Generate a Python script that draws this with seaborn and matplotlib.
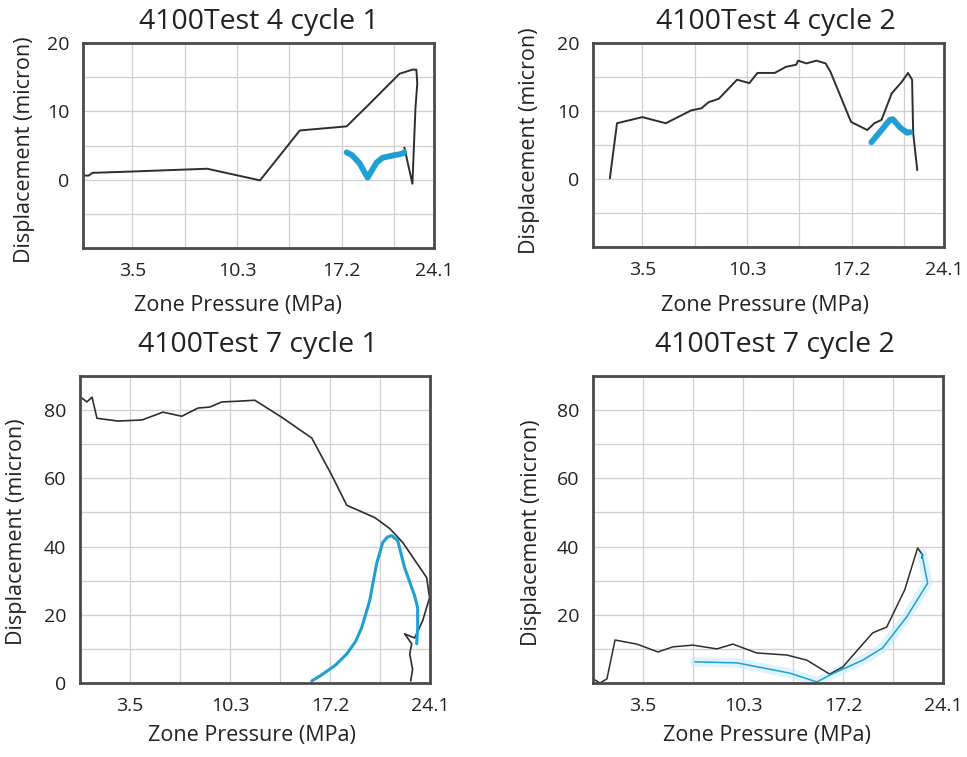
import matplotlib
matplotlib.use("Agg")
import matplotlib.pyplot as plt
import seaborn as sns

# ---- Test 4, cycle 1 -------------------------------------------------
t4c1_load_p = [0.24, 0.57, 0.83, 3.52, 8.37, 11.85, 14.47, 17.55, 19.06, 21.03,
               21.88, 22.14, 22.20, 22.08, 21.88, 21.35]
t4c1_load_d = [0.6, 0.6, 1.0, 1.2, 1.6, -0.1, 7.2, 7.8, 11.1, 15.5,
               16.1, 16.1, 14.1, 10.5, -0.6, 4.7]
t4c1_unld_p = [17.55, 17.9, 18.4, 18.93, 19.52, 19.91, 20.5, 21.2, 21.35]
t4c1_unld_d = [4.0, 3.6, 2.4, 0.3, 2.5, 3.2, 3.5, 3.8, 4.0]

# ---- Test 4, cycle 2 -------------------------------------------------
t4c2_load_p = [1.31, 1.78, 3.45, 4.99, 6.67, 7.34, 7.81, 8.48, 9.68, 10.49,
               11.02, 12.16, 12.90, 13.57, 13.70, 14.24, 14.90, 15.51, 15.84,
               17.18, 18.25, 18.72, 19.19, 19.86, 20.53, 20.93, 21.20, 21.27, 21.54]
t4c2_load_d = [0.1, 8.2, 9.1, 8.2, 10.1, 10.4, 11.3, 11.8, 14.6, 14.1,
               15.6, 15.6, 16.5, 16.8, 17.4, 17.0, 17.4, 17.0, 15.7,
               8.4, 7.2, 8.2, 8.7, 12.6, 14.3, 15.6, 14.6, 6.8, 1.3]
t4c2_unld_p = [18.52, 19.19, 19.73, 19.93, 20.40, 20.87, 21.07]
t4c2_unld_d = [5.4, 7.2, 8.7, 8.8, 7.6, 6.8, 6.9]

# ---- Test 7, cycle 1 -------------------------------------------------
t7c1_load_p = [0.14, 0.48, 0.83, 1.17, 2.62, 4.27, 5.72, 7.02, 8.13, 8.95,
               9.78, 10.88, 12.05, 13.91, 15.98, 17.36, 18.39, 20.32, 21.35,
               22.25, 23.90, 24.10, 23.62, 23.07, 22.38, 22.87, 22.73, 22.93, 22.80]
t7c1_load_d = [83.5, 82.4, 83.8, 77.6, 76.8, 77.1, 79.4, 78.2, 80.6, 80.9,
               82.4, 82.6, 82.9, 77.9, 71.8, 60.9, 52.1, 48.5, 45.3,
               41.2, 30.9, 25.0, 18.2, 13.2, 14.4, 11.5, 8.5, 4.0, 0.6]
t7c1_unld_p = [15.98, 16.74, 17.60, 18.39, 19.00, 19.42, 19.97, 20.45, 20.87,
               21.20, 21.49, 21.90, 22.38, 23.07, 23.28, 23.28, 23.21]
t7c1_unld_d = [0.6, 2.6, 5.2, 8.5, 12.2, 16.2, 24.1, 35.0, 41.2,
               42.8, 43.2, 41.8, 33.8, 25.6, 22.0, 16.2, 11.5]

# ---- Test 7, cycle 2 -------------------------------------------------
t7c2_load_p = [0.14, 0.48, 0.96, 1.52, 3.03, 4.48, 5.51, 6.89, 8.54, 9.64,
               11.29, 13.36, 14.74, 16.32, 17.22, 19.28, 20.25, 21.49, 22.38,
               22.73, 22.66]
t7c2_load_d = [0.9, 0.0, 1.2, 12.6, 11.4, 9.1, 10.6, 11.1, 10.0, 11.4,
               8.8, 8.2, 6.7, 2.6, 4.7, 14.7, 16.4, 27.3, 39.6,
               37.5, 36.7]
t7c2_unld_p = [7.02, 9.92, 13.57, 15.43, 16.46, 18.60, 19.97, 21.63, 23.07, 22.66]
t7c2_unld_d = [6.2, 5.9, 2.9, 0.3, 2.6, 6.7, 10.3, 19.4, 29.3, 38.1]

titles = ["4100Test 4 cycle 1", "4100Test 4 cycle 2",
          "4100Test 7 cycle 1", "4100Test 7 cycle 2"]
x_label = "Zone Pressure (MPa)"
y_label = "Displacement (micron)"

psi_step = 3.447  # 500 psi expressed in MPa
x_tick_text = ["3.5", "10.3", "17.2", "24.1"]

sns.set_style("white")
plt.rcParams["font.family"] = ["Open Sans", "DejaVu Sans"]

W, H = 967, 757
fig = plt.figure(figsize=(W / 100, H / 100), dpi=100)


def px_axes(x0, y0, x1, y1):
    return fig.add_axes([x0 / W, 1 - y1 / H, (x1 - x0) / W, (y1 - y0) / H])


BLACK = "#2e2e2e"
CYAN = "#1f9fd3"
GRID = "#cfcfcf"
SPINE = "#4a4a4a"
TEXT = "#222222"

panels = [
    dict(rect=(83, 43, 434, 248), xlim=(0.2, 23.3), ylim=(-10, 20), ystep=5,
         ylabels={0: "0", 10: "10", 20: "20"},
         load=(t4c1_load_p, t4c1_load_d), unld=(t4c1_unld_p, t4c1_unld_d),
         lw_load=1.4, lw_unld=4.2,
         title_xy=(259, 22), xl_xy=(238, 305), yl_xy=(25, 150)),
    dict(rect=(593, 43, 944, 247), xlim=(0.2, 23.3), ylim=(-10, 20), ystep=5,
         ylabels={0: "0", 10: "10", 20: "20"},
         load=(t4c2_load_p, t4c2_load_d), unld=(t4c2_unld_p, t4c2_unld_d),
         lw_load=1.4, lw_unld=4.2,
         title_xy=(776, 22), xl_xy=(765, 305), yl_xy=(529, 141)),
    dict(rect=(80, 376, 430, 683), xlim=(0.0, 24.13), ylim=(0, 90), ystep=10,
         ylabels={0: "0", 20: "20", 40: "40", 60: "60", 80: "80"},
         load=(t7c1_load_p, t7c1_load_d), unld=(t7c1_unld_p, t7c1_unld_d),
         lw_load=1.2, lw_unld=2.2,
         title_xy=(258, 345), xl_xy=(252, 735), yl_xy=(17, 532)),
    dict(rect=(593, 376, 943, 683), xlim=(0.0, 24.13), ylim=(0, 90), ystep=10,
         ylabels={20: "20", 40: "40", 60: "60", 80: "80"},
         load=(t7c2_load_p, t7c2_load_d), unld=(t7c2_unld_p, t7c2_unld_d),
         lw_load=1.1, lw_unld=1.1,
         title_xy=(775, 345), xl_xy=(767, 735), yl_xy=(531, 533)),
]

for i, cfg in enumerate(panels):
    ax = px_axes(*cfg["rect"])
    x0, x1 = cfg["xlim"]
    y0, y1 = cfg["ylim"]

    # interior grid lines every 500 psi and every y step
    grid_x = [psi_step * k for k in range(1, 7)]
    for gx in grid_x:
        ax.axvline(gx, color=GRID, lw=0.9, zorder=0)
    gy = y0 + cfg["ystep"]
    while gy < y1:
        ax.axhline(gy, color=GRID, lw=0.9, zorder=0)
        gy += cfg["ystep"]

    # faint halo along the unloading trace in the last panel
    if i == 3:
        sns.lineplot(x=cfg["unld"][0], y=cfg["unld"][1], sort=False,
                     estimator=None, color="#c9ebf9", lw=7, alpha=0.6, ax=ax)

    sns.lineplot(x=cfg["load"][0], y=cfg["load"][1], sort=False,
                 estimator=None, color=BLACK, lw=cfg["lw_load"], ax=ax)
    sns.lineplot(x=cfg["unld"][0], y=cfg["unld"][1], sort=False,
                 estimator=None, color=CYAN, lw=cfg["lw_unld"], ax=ax,
                 solid_capstyle="round")

    ax.set_xlim(x0, x1)
    ax.set_ylim(y0, y1)

    xt = [x0] + grid_x + [x1]
    xtl = [""] * len(xt)
    xtl[1], xtl[3], xtl[5], xtl[-1] = x_tick_text
    ax.set_xticks(xt)
    ax.set_xticklabels(xtl)

    yt = list(range(y0, y1 + 1, cfg["ystep"]))
    ax.set_yticks(yt)
    ax.set_yticklabels([cfg["ylabels"].get(v, "") for v in yt])

    ax.tick_params(axis="both", direction="out", length=7, width=1.6,
                   color=SPINE, labelsize=14, labelcolor=TEXT, pad=3)
    for s in ax.spines.values():
        s.set_color(SPINE)
        s.set_linewidth(2.0)
    ax.set_xlabel("")
    ax.set_ylabel("")

    fig.text(cfg["title_xy"][0] / W, 1 - cfg["title_xy"][1] / H, titles[i],
             ha="center", va="center", fontsize=20.5, color=TEXT)
    fig.text(cfg["xl_xy"][0] / W, 1 - cfg["xl_xy"][1] / H, x_label,
             ha="center", va="center", fontsize=15.5, color=TEXT)
    fig.text(cfg["yl_xy"][0] / W, 1 - cfg["yl_xy"][1] / H, y_label,
             ha="center", va="center", rotation=90, fontsize=15.5,
             color=TEXT)

fig.savefig("out.png", dpi=100)
